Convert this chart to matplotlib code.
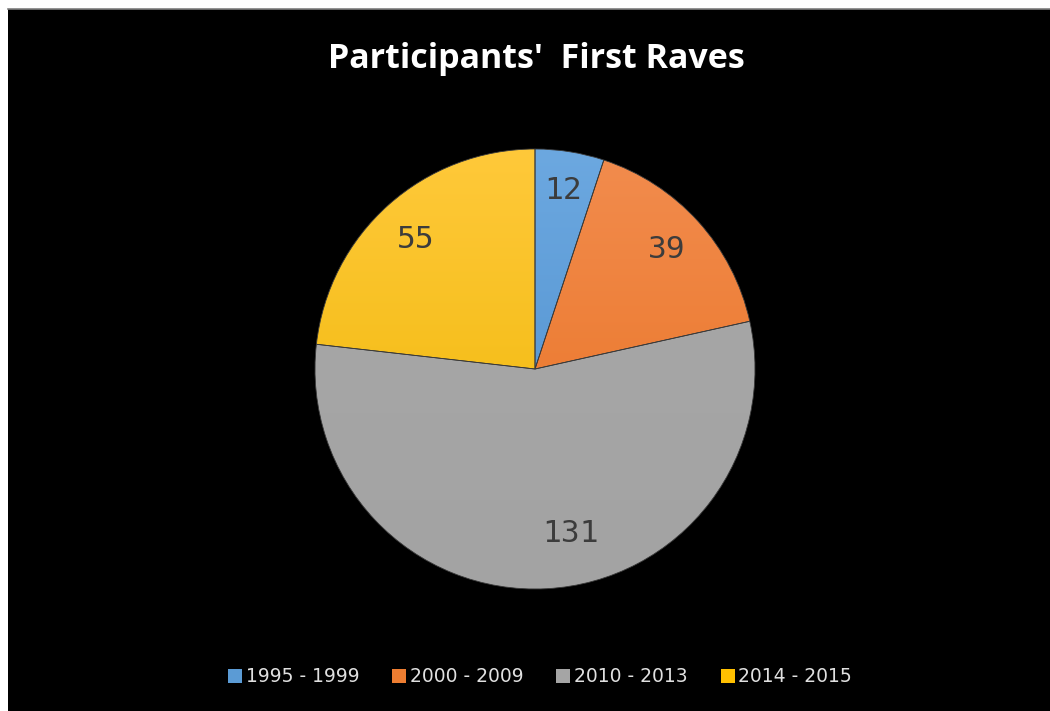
import numpy as np
import matplotlib
matplotlib.use("Agg")
import matplotlib.pyplot as plt
from matplotlib.patches import Rectangle
from matplotlib.lines import Line2D

# Data
periods = ["1995 - 1999", "2000 - 2009", "2010 - 2013", "2014 - 2015"]
participants = [12, 39, 131, 55]

# Slice colours: (top of gradient, bottom of gradient, legend swatch)
top_colors = ["#6CA8E0", "#F28C4E", "#A8A8A8", "#FFC93A"]
bottom_colors = ["#4A8CCB", "#E8701E", "#A3A3A3", "#EDB500"]
swatch_colors = ["#5B9BD5", "#ED7D31", "#A5A5A5", "#FFC000"]

# Label placement: radial fraction and angular nudge (deg) for each slice
label_radius = [0.82, 0.81, 0.765, 0.80]
label_nudge = [0.0, 0.0, 9.0, 1.0]

W, H, DPI = 1050, 711, 100
fig = plt.figure(figsize=(W / DPI, H / DPI), dpi=DPI, facecolor="white")

# Black chart area with thin white margin at top/left
bg = fig.add_axes([8 / W, 0, 1 - 8 / W, (H - 9) / H])
bg.set_facecolor("black")
bg.set_xticks([]); bg.set_yticks([])
for s in bg.spines.values():
    s.set_visible(False)
fig.add_artist(Line2D([8 / W, 1], [(H - 9) / H, (H - 9) / H], color="#7f7f7f",
                      lw=1.2, transform=fig.transFigure))

# Pie axes
cx, cy, r = 535, 369, 220
ax = fig.add_axes([(cx - r) / W, (H - cy - r) / H, 2 * r / W, 2 * r / H])
ax.set_facecolor("none")
ax.axis("off")

wedges, _ = ax.pie(participants, startangle=90, counterclock=False, radius=1.0,
                   colors=swatch_colors,
                   wedgeprops=dict(edgecolor="#3a3a3a", linewidth=0.6))
ax.set_xlim(-1, 1)
ax.set_ylim(-1, 1)
ax.set_aspect("equal")


def hex2rgb(h):
    h = h.lstrip("#")
    return np.array([int(h[i:i + 2], 16) / 255 for i in (0, 2, 4)])


# Vertical gradient fill clipped to each wedge
yy = np.linspace(1, 0, 256)[:, None, None]
for w, tc, bc in zip(wedges, top_colors, bottom_colors):
    t, b = hex2rgb(tc), hex2rgb(bc)
    grad = b + (t - b) * yy
    grad = np.repeat(grad, 2, axis=1)
    im = ax.imshow(grad, extent=(-1, 1, -1, 1), aspect="auto", zorder=w.get_zorder() + 0.1,
                   interpolation="bilinear")
    im.set_clip_path(w)
    w.set_facecolor("none")
    w.set_zorder(w.get_zorder() + 0.2)

ax.set_xlim(-1, 1)
ax.set_ylim(-1, 1)

# Value labels
for w, v, rr, nudge in zip(wedges, participants, label_radius, label_nudge):
    mid = np.deg2rad((w.theta1 + w.theta2) / 2 + nudge)
    ax.text(rr * np.cos(mid), rr * np.sin(mid), f"{v}", ha="center", va="center",
            fontsize=22.5, fontweight="normal", color="#3c3c3c",
            family=["DejaVu Sans Mono"], zorder=10)

# Title
fig.text(536 / W, 1 - 59 / H, "Participants'  First Raves", ha="center", va="center",
         fontsize=24.5, fontweight="bold", color="white", family=["Open Sans", "DejaVu Sans"])

# Legend
handles = [Rectangle((0, 0), 1, 1, facecolor=c, edgecolor="none") for c in swatch_colors]
leg = fig.legend(handles, periods, loc="center", bbox_to_anchor=(540 / W, 1 - 677 / H),
                 ncol=4, frameon=False, handlelength=0.75, handleheight=0.75,
                 handletextpad=0.2, columnspacing=1.75,
                 prop=dict(family=["DejaVu Sans"], size=13.5))
for t in leg.get_texts():
    t.set_color("#e0e0e0")

fig.savefig("out.png", dpi=DPI, facecolor="white")
